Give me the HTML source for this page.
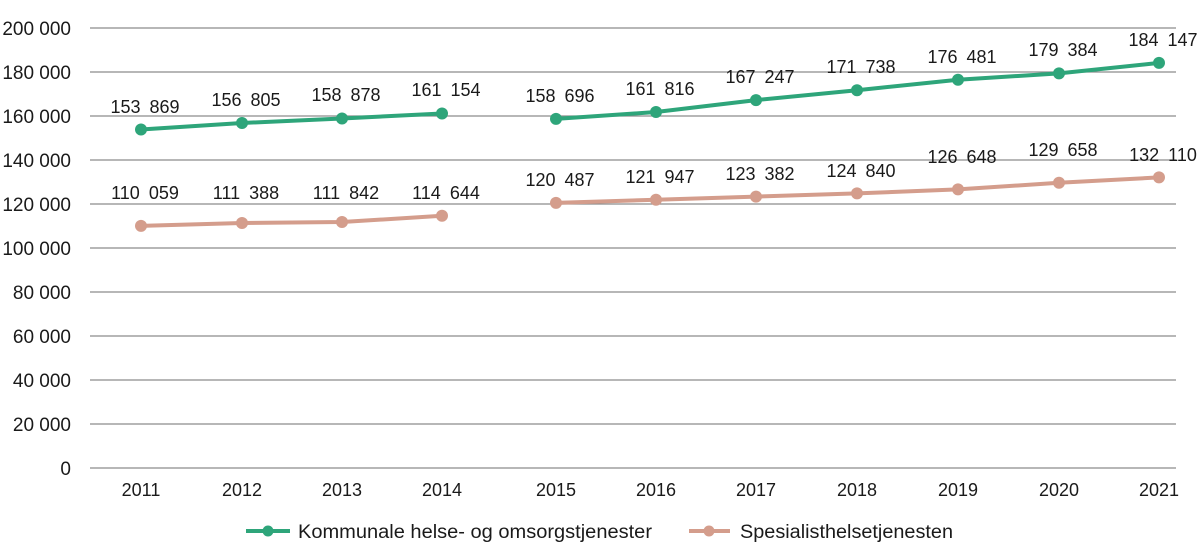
<!DOCTYPE html>
<html><head><meta charset="utf-8"><style>
body{margin:0;background:#fff}
svg{display:block;font-family:"Liberation Sans",sans-serif}
</style></head><body>
<svg width="1200" height="559" viewBox="0 0 1200 559">
<g stroke="#8c8c8c" stroke-width="1.2">
<line x1="90" x2="1176" y1="28" y2="28"/><line x1="90" x2="1176" y1="72" y2="72"/>
<line x1="90" x2="1176" y1="116" y2="116"/><line x1="90" x2="1176" y1="160" y2="160"/>
<line x1="90" x2="1176" y1="204" y2="204"/><line x1="90" x2="1176" y1="248" y2="248"/>
<line x1="90" x2="1176" y1="292" y2="292"/><line x1="90" x2="1176" y1="336" y2="336"/>
<line x1="90" x2="1176" y1="380" y2="380"/><line x1="90" x2="1176" y1="424" y2="424"/>
<line x1="90" x2="1176" y1="468" y2="468"/>
</g>
<g font-size="19" fill="#1a1a1a" text-anchor="end">
<text x="71" y="35">200 000</text><text x="71" y="79">180 000</text><text x="71" y="123">160 000</text>
<text x="71" y="167">140 000</text><text x="71" y="211">120 000</text><text x="71" y="255">100 000</text>
<text x="71" y="299">80 000</text><text x="71" y="343">60 000</text><text x="71" y="387">40 000</text>
<text x="71" y="431">20 000</text><text x="71" y="475">0</text>
</g>
<g font-size="18" fill="#1a1a1a" text-anchor="middle">
<text x="141" y="496">2011</text><text x="242" y="496">2012</text><text x="342" y="496">2013</text>
<text x="442" y="496">2014</text><text x="556" y="496">2015</text><text x="656" y="496">2016</text>
<text x="756" y="496">2017</text><text x="857" y="496">2018</text><text x="958" y="496">2019</text>
<text x="1059" y="496">2020</text><text x="1159" y="496">2021</text>
</g>
<g stroke="#2ea57a" stroke-width="4" fill="none">
<polyline points="141,129.5 242,123 342,118.5 442,113.5"/>
<polyline points="556,118.9 656,112 756,100.1 857,90.2 958,79.7 1059,73.4 1159,62.9"/>
</g>
<g fill="#2ea57a">
<circle cx="141" cy="129.5" r="6"/><circle cx="242" cy="123" r="6"/><circle cx="342" cy="118.5" r="6"/><circle cx="442" cy="113.5" r="6"/>
<circle cx="556" cy="118.9" r="6"/><circle cx="656" cy="112" r="6"/><circle cx="756" cy="100.1" r="6"/><circle cx="857" cy="90.2" r="6"/>
<circle cx="958" cy="79.7" r="6"/><circle cx="1059" cy="73.4" r="6"/><circle cx="1159" cy="62.9" r="6"/>
</g>
<g stroke="#d49d8c" stroke-width="4" fill="none">
<polyline points="141,225.9 242,223 342,222 442,215.8"/>
<polyline points="556,202.9 656,199.7 756,196.6 857,193.4 958,189.4 1059,182.8 1159,177.4"/>
</g>
<g fill="#d49d8c">
<circle cx="141" cy="225.9" r="6"/><circle cx="242" cy="223" r="6"/><circle cx="342" cy="222" r="6"/><circle cx="442" cy="215.8" r="6"/>
<circle cx="556" cy="202.9" r="6"/><circle cx="656" cy="199.7" r="6"/><circle cx="756" cy="196.6" r="6"/><circle cx="857" cy="193.4" r="6"/>
<circle cx="958" cy="189.4" r="6"/><circle cx="1059" cy="182.8" r="6"/><circle cx="1159" cy="177.4" r="6"/>
</g>
<g font-size="18" fill="#1a1a1a" text-anchor="middle" word-spacing="4">
<text x="145" y="113">153 869</text><text x="246" y="106">156 805</text><text x="346" y="101">158 878</text><text x="446" y="96">161 154</text>
<text x="560" y="102">158 696</text><text x="660" y="95">161 816</text><text x="760" y="83">167 247</text><text x="861" y="73">171 738</text>
<text x="962" y="63">176 481</text><text x="1063" y="56">179 384</text><text x="1163" y="46">184 147</text>
<text x="145" y="199">110 059</text><text x="246" y="199">111 388</text><text x="346" y="199">111 842</text><text x="446" y="199">114 644</text>
<text x="560" y="186">120 487</text><text x="660" y="183">121 947</text><text x="760" y="180">123 382</text><text x="861" y="177">124 840</text>
<text x="962" y="163">126 648</text><text x="1063" y="156">129 658</text><text x="1163" y="161">132 110</text>
</g>
<line x1="246" x2="290" y1="531" y2="531" stroke="#2ea57a" stroke-width="4"/><circle cx="268" cy="531" r="5.5" fill="#2ea57a"/>
<line x1="689" x2="730" y1="531" y2="531" stroke="#d49d8c" stroke-width="4"/><circle cx="709" cy="531" r="5.5" fill="#d49d8c"/>
<g font-size="19" fill="#1a1a1a">
<text x="298" y="538" textLength="354" lengthAdjust="spacingAndGlyphs">Kommunale helse- og omsorgstjenester</text>
<text x="740" y="538" textLength="213" lengthAdjust="spacingAndGlyphs">Spesialisthelsetjenesten</text>
</g>
</svg>
</body></html>
